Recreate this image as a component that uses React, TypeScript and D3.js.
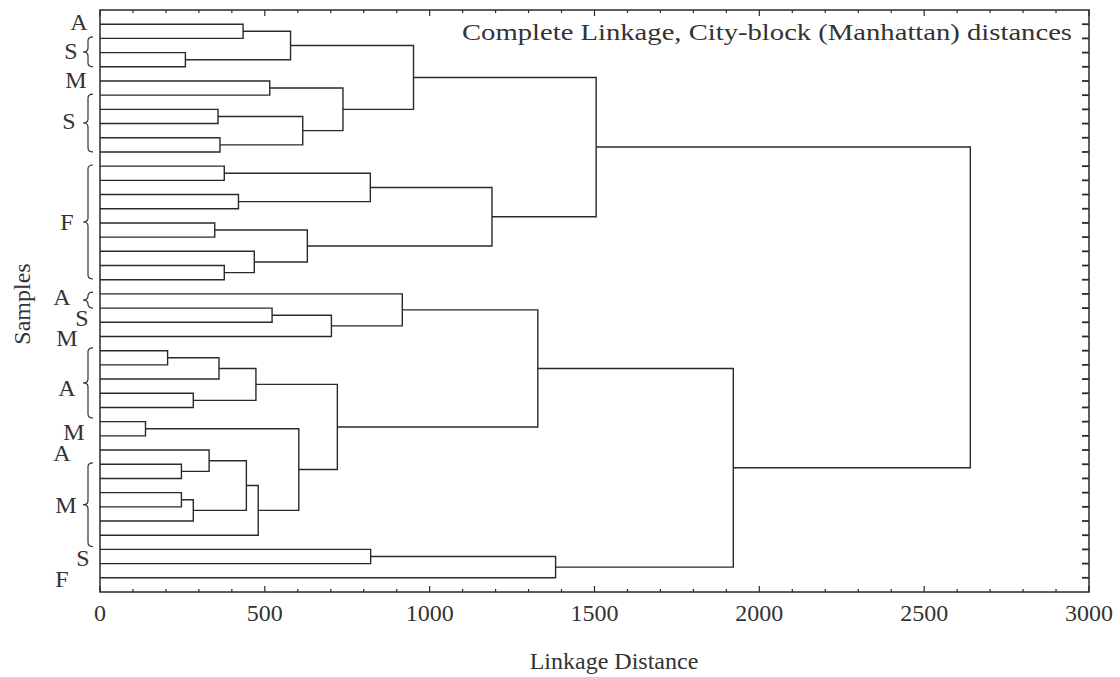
import React, { useEffect, useRef } from 'react';
import * as d3 from 'd3';

const leafCount = 40;

// ids 0-39 are the samples from top to bottom, 40+ are the clusters in the order they are built
const merges: [number, number][] = [
  [0, 1], [2, 3], [40, 41], [4, 5], [6, 7], [8, 9], [44, 45], [43, 46], [42, 47],
  [10, 11], [12, 13], [49, 50], [14, 15], [17, 18], [16, 53], [52, 54], [51, 55], [48, 56],
  [20, 21], [58, 22], [19, 59], [23, 24], [61, 25], [26, 27], [62, 63], [28, 29],
  [31, 32], [30, 66], [33, 34], [68, 35], [67, 69], [70, 36], [65, 71], [64, 72], [60, 73],
  [37, 38], [75, 39], [74, 76], [57, 77],
];
const mergeHeights = [
  434, 259, 578, 515, 358, 364, 615, 737, 951,
  377, 420, 820, 348, 377, 468, 629, 1189, 1505,
  522, 702, 917, 205, 361, 283, 473, 138,
  247, 331, 247, 283, 444, 480, 603, 720, 1328,
  821, 1382, 1921, 2640,
];

const majorTicks = [0, 500, 1000, 1500, 2000, 2500, 3000];
const minorStep = 100;

// group letters written beside the samples (row = position in sample rows, 1 = first sample)
const groupLabels = ['A', 'S', 'M', 'S', 'F', 'A', 'S', 'M', 'A', 'M', 'A', 'M', 'S', 'F'];
const labelRows = [0.85, 2.9, 4.9, 7.8, 14.9, 20.2, 21.7, 23.1, 26.6, 29.7, 31.2, 34.9, 38.6, 40.1];
const labelX = [79, 71, 76, 69, 67, 62, 82, 67, 67, 74, 62, 66, 83, 62];
const braceRows: [number, number][] = [
  [1.9, 4.0], [5.92, 10.0], [10.92, 18.95], [19.87, 21.0], [23.8, 28.74], [31.9, 37.8],
];

const title = 'Complete Linkage, City-block (Manhattan) distances';
const xTitle = 'Linkage Distance';
const yTitle = 'Samples';

const W = 1120;
const H = 677;
const FONT = '"Liberation Serif", "Times New Roman", serif';

const Dendrogram = () => {
  const svgRef = useRef<SVGSVGElement>(null);

  useEffect(() => {
    const svg = d3.select(svgRef.current);
    svg.selectAll('*').remove();

    const left = 100, right = 1089, top = 10, bottom = 592;
    const ink = '#2a2a2a';

    const x = d3.scaleLinear().domain([0, 3000]).range([left, right]);
    const y = d3.scaleLinear().domain([0, leafCount + 1]).range([top, bottom]);

    svg.append('rect').attr('width', W).attr('height', H).attr('fill', '#fff');

    // node positions: leaves first, then each merge at the middle of its two children
    const nodes: { h: number; y: number }[] = d3.range(leafCount).map(i => ({ h: 0, y: y(i + 1) }));
    merges.forEach(([a, b], i) => {
      nodes.push({ h: mergeHeights[i], y: (nodes[a].y + nodes[b].y) / 2 });
    });

    svg.append('g')
      .selectAll('path')
      .data(merges)
      .enter()
      .append('path')
      .attr('d', ([a, b], i) => {
        const na = nodes[a], nb = nodes[b];
        const hx = x(mergeHeights[i]);
        return `M${x(na.h)},${na.y}H${hx}V${nb.y}H${x(nb.h)}`;
      })
      .attr('fill', 'none')
      .attr('stroke', ink)
      .attr('stroke-width', 1.4);

    // frame
    svg.append('rect')
      .attr('x', left).attr('y', top)
      .attr('width', right - left).attr('height', bottom - top)
      .attr('fill', 'none')
      .attr('stroke', ink)
      .attr('stroke-width', 1.5);

    // x ticks on bottom and top, pointing inward
    const allTicks = d3.range(0, 3001, minorStep);
    const tickG = svg.append('g').attr('stroke', ink).attr('stroke-width', 1.2);
    allTicks.forEach(t => {
      const len = t % 500 === 0 ? 6 : 3;
      tickG.append('line').attr('x1', x(t)).attr('x2', x(t)).attr('y1', bottom).attr('y2', bottom - len);
      tickG.append('line').attr('x1', x(t)).attr('x2', x(t)).attr('y1', top).attr('y2', top + len);
    });

    // right axis ticks at every sample row
    svg.append('g')
      .selectAll('line')
      .data(d3.range(leafCount))
      .enter()
      .append('line')
      .attr('x1', right).attr('x2', right - 7)
      .attr('y1', i => y(i + 1)).attr('y2', i => y(i + 1))
      .attr('stroke', ink)
      .attr('stroke-width', 1.8);

    svg.append('g')
      .selectAll('text')
      .data(majorTicks)
      .enter()
      .append('text')
      .attr('x', d => x(d))
      .attr('y', 621)
      .attr('text-anchor', 'middle')
      .style('font-family', FONT)
      .style('font-size', '24px')
      .attr('fill', '#333')
      .text(d => String(d));

    // group letters and braces
    svg.append('g')
      .selectAll('text')
      .data(groupLabels)
      .enter()
      .append('text')
      .attr('x', (d, i) => labelX[i])
      .attr('y', (d, i) => y(labelRows[i]) + 8)
      .attr('text-anchor', 'middle')
      .style('font-family', FONT)
      .style('font-size', '24px')
      .attr('fill', '#333')
      .text(d => d);

    const spine = 88;
    svg.append('g')
      .selectAll('path')
      .data(braceRows)
      .enter()
      .append('path')
      .attr('d', ([r0, r1]) => {
        const y0 = y(r0), y1 = y(r1), m = (y0 + y1) / 2;
        const r = Math.min(4, (y1 - y0) / 4);
        return `M${spine + 5},${y0}Q${spine},${y0} ${spine},${y0 + r}L${spine},${m - r}` +
          `Q${spine},${m} ${spine - 5},${m}Q${spine},${m} ${spine},${m + r}` +
          `L${spine},${y1 - r}Q${spine},${y1} ${spine + 5},${y1}`;
      })
      .attr('fill', 'none')
      .attr('stroke', '#333')
      .attr('stroke-width', 1.2);

    // titles
    svg.append('text')
      .attr('x', 462).attr('y', 40)
      .attr('textLength', 610)
      .attr('lengthAdjust', 'spacingAndGlyphs')
      .style('font-family', FONT)
      .style('font-size', '24px')
      .attr('fill', '#333')
      .text(title);

    svg.append('text')
      .attr('x', 614).attr('y', 669)
      .attr('text-anchor', 'middle')
      .style('font-family', FONT)
      .style('font-size', '24px')
      .attr('fill', '#333')
      .text(xTitle);

    svg.append('text')
      .attr('transform', 'translate(30,304) rotate(-90)')
      .attr('text-anchor', 'middle')
      .style('font-family', FONT)
      .style('font-size', '24px')
      .attr('fill', '#333')
      .text(yTitle);
  }, []);

  return <svg ref={svgRef} width={W} height={H} style={{ position: 'absolute', left: 0, top: 0 }} />;
};

export default function App() {
  return <Dendrogram />;
}
